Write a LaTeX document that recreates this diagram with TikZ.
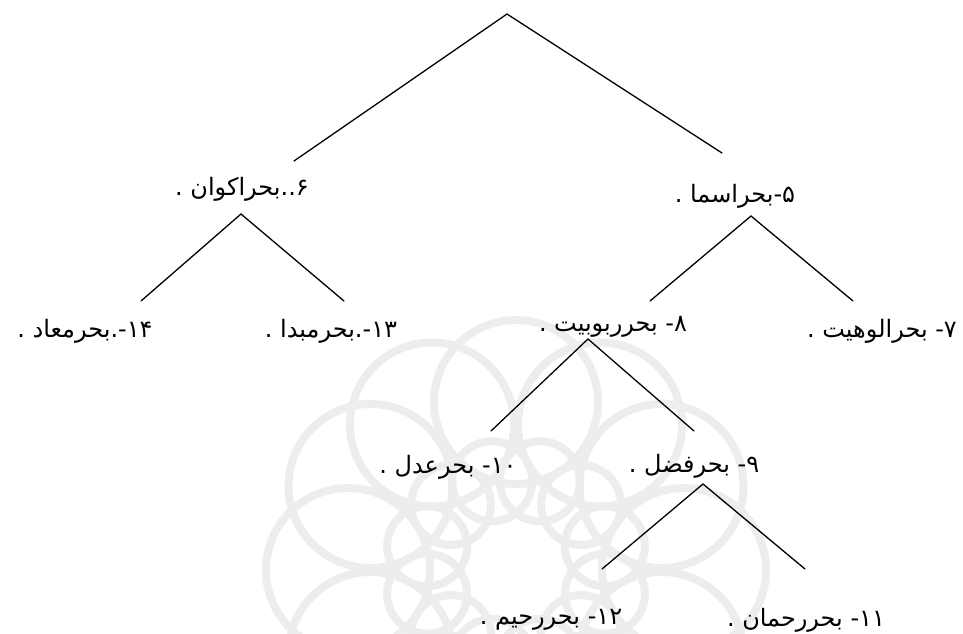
\documentclass[tikz,border=0pt]{standalone}
\usepackage{fontspec}
\TeXXeTstate=1
\newfontfamily\arabicfont[Script=Arabic]{DejaVu Sans}
\begin{document}
\begin{tikzpicture}[x=1pt,y=-1pt,
  conn/.style={line width=1.3pt, line cap=round},
  lbl/.style={font=\arabicfont\fontsize{24}{28}\selectfont, inner sep=0pt, anchor=center},
  wm/.style={draw=black!7, line width=8pt}]
\useasboundingbox (0,0) rectangle (963,633);
% faint background emblem
\begin{scope}
\clip (0,0) rectangle (963,633);
\foreach \a in {0,30,...,330}{
  \draw[wm] (516,570) ++(\a:168pt) circle (82pt);
  \draw[wm] (516,570) ++(\a+15:92pt) circle (40pt);
}
\end{scope}
% tree coordinates
\coordinate (r0) at (507,14);
\coordinate (r0l) at (294,161);
\coordinate (r0r) at (722,153);
\coordinate (s6) at (241,214);
\coordinate (s6l) at (141,301);
\coordinate (s6r) at (344,301);
\coordinate (s5) at (751,216);
\coordinate (s5l) at (650,301);
\coordinate (s5r) at (853,301);
\coordinate (s8) at (588,339);
\coordinate (s8l) at (491,431);
\coordinate (s8r) at (694,431);
\coordinate (s9) at (703,484);
\coordinate (s9l) at (602,569);
\coordinate (s9r) at (805,569);
% labels
\node[lbl] (n6) at (242,189) {\beginR ۶..بحراکوان .\endR};
\node[lbl] (n5) at (735,196) {\beginR ۵-بحراسما .\endR};
\node[lbl] (n14) at (85,331) {\beginR ۱۴-.بحرمعاد .\endR};
\node[lbl] (n13) at (331,331) {\beginR ۱۳-.بحرمبدا .\endR};
\node[lbl] (n8) at (613,327) {\beginR ۸- بحرربوبیت .\endR};
\node[lbl] (n7) at (882,331) {\beginR ۷- بحرالوهیت .\endR};
\node[lbl] (n10) at (448,467) {\beginR ۱۰- بحرعدل .\endR};
\node[lbl] (n9) at (694,466) {\beginR ۹- بحرفضل .\endR};
\node[lbl] (n12) at (551,620) {\beginR ۱۲- بحررحیم .\endR};
\node[lbl] (n11) at (806,620) {\beginR ۱۱- بحررحمان .\endR};
% connectors
\draw[conn] (r0l) -- (r0) -- (r0r);
\draw[conn] (s6l) -- (s6) -- (s6r);
\draw[conn] (s5l) -- (s5) -- (s5r);
\draw[conn] (s8l) -- (s8) -- (s8r);
\draw[conn] (s9l) -- (s9) -- (s9r);
\end{tikzpicture}
\end{document}
